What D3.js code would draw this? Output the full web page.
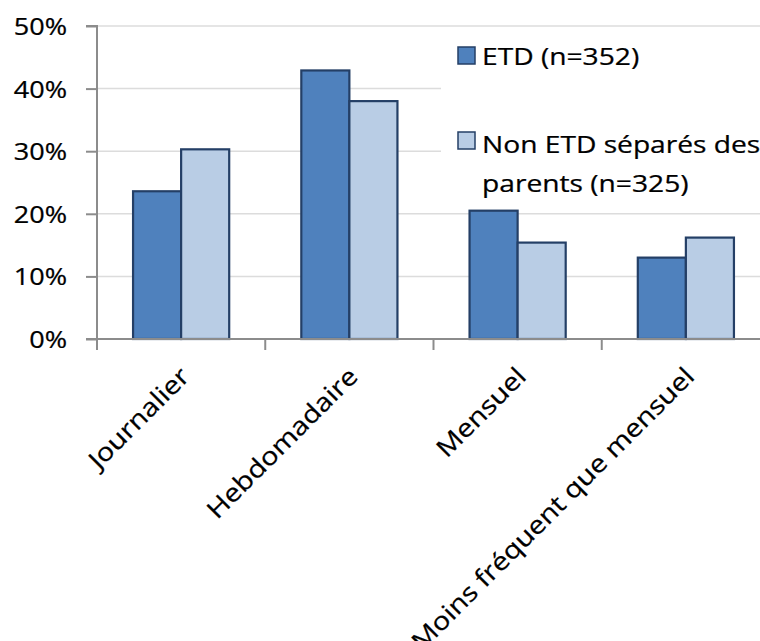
<!DOCTYPE html>
<html>
<head>
<meta charset="utf-8">
<script src="https://cdn.jsdelivr.net/npm/d3@7"></script>
<style>
  html, body { margin: 0; padding: 0; background: #ffffff; }
  svg { display: block; }
  text { font-family: "Open Sans", sans-serif; fill: #000; stroke: #000; stroke-width: 0.25px; }
</style>
</head>
<body>
<svg id="chart" width="760" height="641"></svg>
<script>
// Fréquence des contacts : ETD vs non ETD séparés des parents
const categories = ["Journalier", "Hebdomadaire", "Mensuel", "Moins fréquent que mensuel"];
const seriesNames = ["ETD (n=352)", "Non ETD séparés des parents (n=325)"];
const etdValues = [0.236, 0.429, 0.205, 0.130];
const nonEtdValues = [0.303, 0.380, 0.154, 0.162];
const yTicks = [0, 0.1, 0.2, 0.3, 0.4, 0.5];

const colors = ["#4f81bd", "#b9cde5"];
const barStroke = "#243f66";
const axisColor = "#8c8c8c";
const gridColor = "#dcdcdc";
const textScale = 1.15;

const svg = d3.select("#chart");
const plot = { left: 97, right: 770, top: 26, bottom: 339 };

const y = d3.scaleLinear().domain([0, 0.5]).range([plot.bottom, plot.top]);
const x = d3.scaleBand().domain(categories).range([plot.left, plot.right]).padding(0);

// gap width of 150% between groups
const barW = x.bandwidth() / (2 + 1.5);
const inner = d3.scaleBand().domain([0, 1]).range([0, 2 * barW]).padding(0);

// gridlines
svg.append("g")
  .selectAll("line")
  .data(yTicks.filter(d => d > 0))
  .join("line")
  .attr("x1", plot.left).attr("x2", 760)
  .attr("y1", d => y(d)).attr("y2", d => y(d))
  .attr("stroke", gridColor).attr("stroke-width", 1.5);

// bars
const rows = categories.map((c, i) => ({ cat: c, vals: [etdValues[i], nonEtdValues[i]] }));
const groups = svg.append("g").selectAll("g")
  .data(rows)
  .join("g")
  .attr("transform", d => `translate(${x(d.cat) + 0.75 * barW},0)`);

groups.selectAll("rect")
  .data(d => d.vals.map((v, k) => ({ v, k })))
  .join("rect")
  .attr("x", d => inner(d.k))
  .attr("width", inner.bandwidth())
  .attr("y", d => y(d.v))
  .attr("height", d => y(0) - y(d.v))
  .attr("fill", d => colors[d.k])
  .attr("stroke", barStroke)
  .attr("stroke-width", 2.2);

// legend background hides the gridlines behind it
svg.append("rect")
  .attr("x", 441).attr("y", 28).attr("width", 330).attr("height", 176)
  .attr("fill", "#ffffff");

// y axis
const yAxis = d3.axisLeft(y).tickValues(yTicks).tickSize(11).tickFormat("");
const yg = svg.append("g").attr("transform", `translate(${plot.left},0)`).call(yAxis);
yg.select(".domain").attr("d", `M-11,${plot.top}H0V${plot.bottom}H-11`);
yg.selectAll("line, path").attr("stroke", axisColor).attr("stroke-width", 2);

svg.append("g").selectAll("text")
  .data(yTicks)
  .join("text")
  .attr("text-anchor", "end")
  .attr("font-size", 23.5)
  .attr("transform", d => `translate(67,${y(d) + 9}) scale(${textScale},1)`)
  .text(d3.format(".0%"));

// x axis with ticks on band boundaries
const xg = svg.append("g").attr("transform", `translate(0,${plot.bottom})`);
xg.append("line")
  .attr("x1", plot.left).attr("x2", 760)
  .attr("stroke", axisColor).attr("stroke-width", 2);
xg.selectAll("line.tick")
  .data(categories)
  .join("line")
  .attr("class", "tick")
  .attr("x1", d => x(d)).attr("x2", d => x(d))
  .attr("y1", 0).attr("y2", 11)
  .attr("stroke", axisColor).attr("stroke-width", 2);

svg.append("g").selectAll("text")
  .data(categories)
  .join("text")
  .attr("text-anchor", "end")
  .attr("font-size", 25)
  .attr("transform", d => `translate(${x(d) + x.bandwidth() / 2 + 10},378) rotate(-45) scale(${textScale},1)`)
  .text(d => d);

// legend
const legend = svg.append("g");
const legendRows = [
  { k: 0, sy: 47, lines: ["ETD (n=352)"], ty: 65 },
  { k: 1, sy: 132, lines: ["Non ETD séparés des", "parents (n=325)"], ty: 153 }
];
legendRows.forEach(r => {
  legend.append("rect")
    .attr("x", 458).attr("y", r.sy).attr("width", 17).attr("height", 17)
    .attr("fill", colors[r.k]).attr("stroke", barStroke).attr("stroke-width", 1.5);
  r.lines.forEach((line, j) => {
    legend.append("text")
      .attr("font-size", 24.5)
      .attr("transform", `translate(482,${r.ty + j * 39}) scale(${textScale},1)`)
      .text(line);
  });
});
</script>
</body>
</html>
